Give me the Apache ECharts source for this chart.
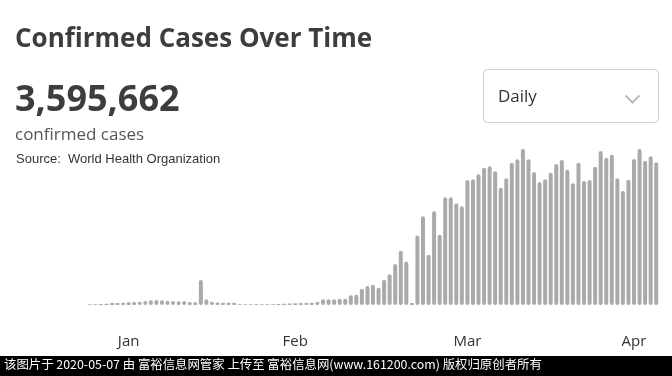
<!DOCTYPE html>
<html>
<head>
<meta charset="utf-8">
<script src="https://cdn.jsdelivr.net/npm/echarts@6/dist/echarts.min.js"></script>
<style>
  html, body { margin: 0; padding: 0; background: #fff; }
  #chart { width: 672px; height: 376px; }
</style>
</head>
<body>
<div id="chart"></div>
<script>
// daily confirmed cases, one bar per day starting 2020-01-24
var dailyCases = [
  500, 500, 600, 700, 1200, 1200, 1400, 1600, 1800, 2000,
  2400, 2800, 3000, 2800, 2600, 2400, 2200, 2400, 1800, 1600,
  15000, 3400, 2000, 1500, 1400, 1400, 1400, 500, 500, 400,
  400, 400, 500, 500, 600, 800, 900, 1100, 1200, 1400,
  1400, 2000, 3400, 3400, 3400, 3800, 3800, 5800, 6200, 9800,
  11400, 12200, 10400, 15200, 18400, 24600, 32600, 26100, 1200, 41700,
  53200, 30100, 56200, 42200, 64600, 64600, 61000, 59200, 75000, 75400,
  78400, 82400, 83200, 80200, 70400, 76000, 85400, 87400, 93800, 87400,
  79800, 73800, 75500, 79400, 84600, 87000, 81200, 73000, 85400, 74400,
  75000, 83000, 92400, 88400, 90200, 76000, 68400, 75200, 87600, 93600,
  86600, 89200, 85600
]
var startDate = '2020-01-24'
// month tick labels and the bar index they sit under
var monthLabels = ['Jan', 'Feb', 'Mar', 'Apr']
var monthLabelIdx = [7, 37, 68, 98]

var totalText = '3,595,662'

// build category list (dates) for the bars
var categories = []
var d0 = new Date(startDate + 'T00:00:00Z')
for (var i = 0; i < dailyCases.length; i++) {
  var d = new Date(d0.getTime() + i * 86400000)
  categories.push(d.toISOString().slice(0, 10))
}

var myChart = echarts.init(document.getElementById('chart'))
var option = {
  backgroundColor: '#fff',
  animation: false,
  grid: {
    left: 87,
    right: 13,
    top: 145,
    bottom: 71,
    containLabel: false
  },
  xAxis: {
    type: 'category',
    data: categories,
    axisLine: { show: false },
    axisTick: { show: false },
    axisLabel: {
      margin: 29,
      color: '#333',
      fontSize: 15,
      fontFamily: 'Open Sans',
      interval: function (idx) {
        return monthLabelIdx.indexOf(idx) >= 0
      },
      formatter: function (val, idx) {
        return monthLabels[monthLabelIdx.indexOf(idx)]
      }
    }
  },
  yAxis: {
    type: 'value',
    min: 0,
    max: 96000,
    show: false,
    splitLine: { show: false }
  },
  series: [{
    type: 'bar',
    data: dailyCases,
    barWidth: 4,
    itemStyle: {
      color: '#aaaaaa',
      borderRadius: 2
    }
  }],
  graphic: [
    {
      type: 'text', left: 15, top: 27,
      style: { text: 'Confirmed Cases Over Time', font: 'bold 26px "Open Sans"', fill: '#3d3d3d' }
    },
    {
      type: 'text', left: 15, top: 83,
      style: { text: totalText, font: 'bold 36px "Open Sans"', fill: '#3d3d3d' }
    },
    {
      type: 'text', left: 15, top: 127,
      style: { text: 'confirmed cases', font: '17px "Open Sans"', fill: '#555' }
    },
    {
      type: 'text', left: 16, top: 153,
      style: { text: 'Source:  World Health Organization', font: '13px "Liberation Sans"', fill: '#333' }
    },
    // dropdown box
    {
      type: 'rect', left: 483, top: 69,
      shape: { width: 175, height: 53, r: 4 },
      style: { fill: '#fff', stroke: '#cfcfcf', lineWidth: 1 }
    },
    {
      type: 'text', left: 498, top: 89,
      style: { text: 'Daily', font: '17px "Open Sans"', fill: '#333' }
    },
    {
      type: 'polyline', left: 623, top: 93,
      shape: { points: [[0, 0], [7, 7], [14, 0]] },
      style: { stroke: '#bbb', lineWidth: 2, fill: null }
    },
    // watermark strip
    {
      type: 'rect', left: 0, top: 356,
      shape: { width: 672, height: 20 },
      style: { fill: '#000' }
    },
    {
      type: 'text', left: 4, top: 358,
      style: {
        text: '该图片于 2020-05-07 由 富裕信息网管家 上传至 富裕信息网(www.161200.com) 版权归原创者所有',
        font: '12.4px "Noto Sans CJK SC"', fill: '#fff'
      }
    }
  ]
}
myChart.setOption(option)
window.addEventListener('resize', myChart.resize)
</script>
</body>
</html>
